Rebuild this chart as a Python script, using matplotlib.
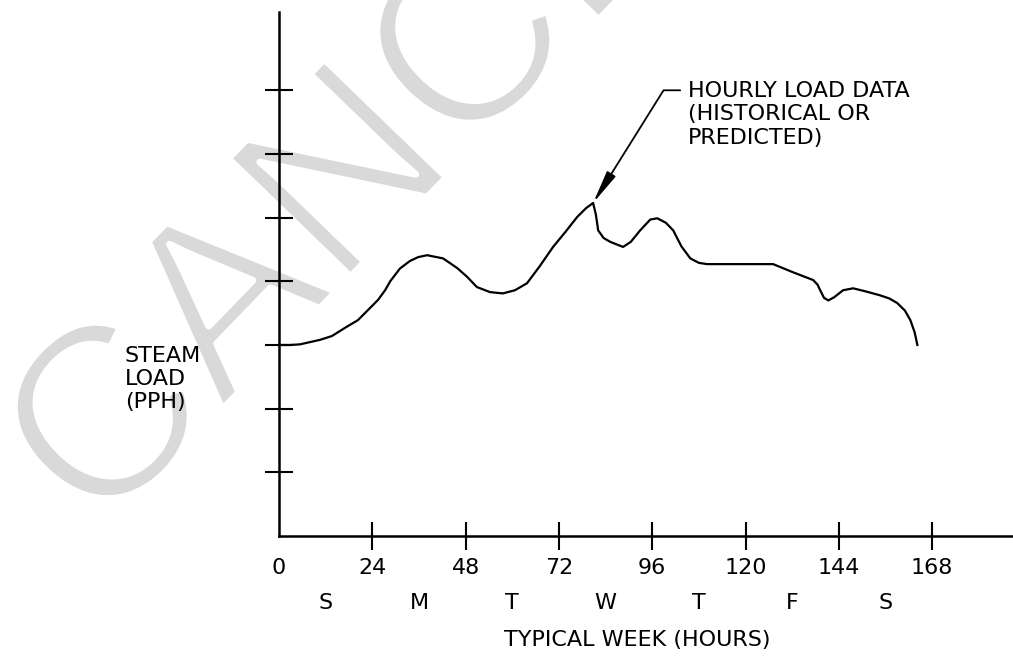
import matplotlib.pyplot as plt
from matplotlib import patheffects

# hourly steam load over a typical week (arbitrary load units, 1 unit = 1 axis tick)
hours = [0, 2.8, 5.4, 10.5, 13.6, 17.0, 20.3, 23.4, 25.5, 27.3, 28.6, 31.1, 33.7,
         35.8, 38.1, 42.2, 45.8, 48.4, 50.9, 54.3, 57.6, 60.7, 63.8, 67.1, 70.5,
         73.6, 76.7, 79.0, 80.8, 81.5, 82.1, 83.5, 85.2, 88.5, 90.5, 92.9, 95.5,
         97.3, 99.5, 101.4, 103.5, 105.8, 108, 110.1, 127.1, 132.3, 137.4, 138.5,
         139.2, 140.2, 141.3, 142.8, 145.1, 147.7, 151, 154.6, 157, 159, 161,
         162.4, 163.5, 164.2]
load = [3.00, 3.00, 3.01, 3.08, 3.14, 3.27, 3.39, 3.58, 3.71, 3.86, 4.00, 4.20,
        4.32, 4.38, 4.41, 4.36, 4.21, 4.07, 3.91, 3.83, 3.81, 3.86, 3.97, 4.24,
        4.54, 4.77, 5.01, 5.15, 5.23, 5.05, 4.80, 4.68, 4.62, 4.54, 4.62, 4.80,
        4.97, 4.99, 4.92, 4.80, 4.55, 4.36, 4.29, 4.27, 4.27, 4.14, 4.02, 3.95,
        3.86, 3.74, 3.70, 3.75, 3.86, 3.89, 3.84, 3.78, 3.73, 3.66, 3.54, 3.39,
        3.20, 3.00]

x_ticks = [0, 24, 48, 72, 96, 120, 144, 168]
y_ticks = [1, 2, 3, 4, 5, 6, 7]
day_pos = [12, 36, 60, 84, 108, 132, 156]
day_labels = ['S', 'M', 'T', 'W', 'T', 'F', 'S']

fig = plt.figure(figsize=(10.13, 6.58), dpi=100)
ax = fig.add_axes([0.2754, 0.1854, 0.7246, 0.7964])
ax.set_facecolor('none')

# watermark behind everything, thinned a little with a white outline
fig.text(0.0967, 0.182, 'CANCELLED', rotation=46, rotation_mode='anchor',
         ha='left', va='baseline', fontsize=178, color='#d9d9d9',
         family='Liberation Sans', zorder=-1,
         path_effects=[patheffects.Stroke(linewidth=5, foreground='white')])

ax.plot(hours, load, color='black', lw=1.6, solid_joinstyle='round')
ax.set_xlim(0, 188.8)
ax.set_ylim(0, 8.23)

for s in ['top', 'right']:
    ax.spines[s].set_visible(False)
for s in ['left', 'bottom']:
    ax.spines[s].set_linewidth(1.8)

ax.set_xticks(x_ticks)
ax.set_xticklabels([str(t) for t in x_ticks])
ax.set_yticks(y_ticks)
ax.set_yticklabels([])
ax.tick_params(axis='both', direction='inout', length=20, width=1.5,
               labelsize=16, pad=6)
ax.xaxis.get_major_ticks()[0].tick1line.set_visible(False)

for p, d in zip(day_pos, day_labels):
    ax.text(p, -0.128, d, transform=ax.get_xaxis_transform(),
            ha='center', va='center', fontsize=16)

ax.text(0.488, -0.198, 'TYPICAL WEEK (HOURS)', transform=ax.transAxes,
        ha='center', va='center', fontsize=16)
ax.text(-0.2098, 0.2996, 'STEAM\nLOAD\n(PPH)', transform=ax.transAxes,
        ha='left', va='center', fontsize=16, linespacing=1.2)

# leader to the weekly peak
i = load.index(max(load))
ax.annotate('', xy=(hours[i], load[i]), xytext=(103.2, 7.0),
            arrowprops=dict(arrowstyle='-|>,head_length=2.0,head_width=0.3',
                            connectionstyle='angle,angleA=0,angleB=58,rad=0',
                            color='black', lw=1.3, shrinkA=0, shrinkB=0,
                            mutation_scale=10))
ax.text(105.2, 6.62, 'HOURLY LOAD DATA\n(HISTORICAL OR\nPREDICTED)',
        ha='left', va='center', fontsize=16, linespacing=1.24)

fig.savefig('out.png', dpi=100)
